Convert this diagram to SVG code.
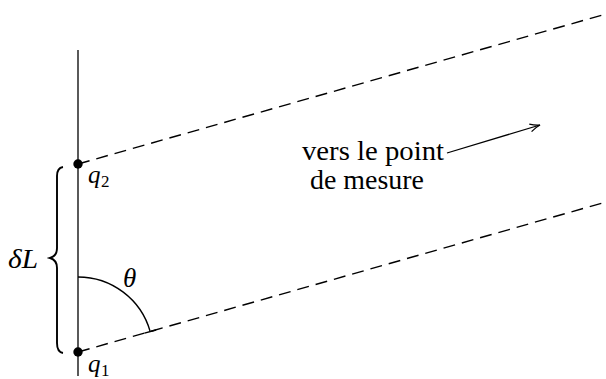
<svg xmlns="http://www.w3.org/2000/svg" width="606" height="379" viewBox="0 0 606 379">
<defs>
<style>
.i{font-style:italic}
.dash{stroke:#000;stroke-width:1.4;stroke-dasharray:12,7;fill:none}
.ln{stroke:#000;fill:none}
</style>
<marker id="ah" viewBox="0 0 12 10" refX="11" refY="5" markerWidth="12" markerHeight="10" markerUnits="userSpaceOnUse" orient="auto">
<path d="M1,1 Q6,4 11,5 Q6,6 1,9" fill="none" stroke="#000" stroke-width="1.2"/>
</marker>
</defs>
<rect width="606" height="379" fill="#fff"/>
<g id="axis">
<line class="ln" x1="78" y1="50" x2="78" y2="376" stroke-width="1.3" stroke="#222"/>
</g>
<g id="connectors">
<line class="dash" x1="78" y1="164" x2="606" y2="14"/>
<line class="dash" x1="78" y1="352" x2="606" y2="202"/>
<line class="ln" x1="447" y1="153" x2="540" y2="125" stroke-width="1.3" marker-end="url(#ah)"/>
</g>
<g id="q2">
<circle cx="78" cy="164" r="4.7" fill="#000"/>
<text class="i" x="88" y="183" font-size="25" font-family="Liberation Serif">q<tspan font-style="normal" font-size="17" x="101" dy="4">2</tspan></text>
</g>
<g id="q1">
<circle cx="78" cy="352" r="4.7" fill="#000"/>
<text class="i" x="88" y="372" font-size="25" font-family="Liberation Serif">q<tspan font-style="normal" font-size="17" x="101" dy="4">1</tspan></text>
</g>
<g id="brace">
<path class="ln" stroke-width="1.9" d="M63,167 Q57,168 57,176 L57,248 Q57,256 50,258 Q57,260 57,268 L57,343 Q57,352 63,353"/>
<text class="i" x="8" y="268" font-size="27" font-family="Liberation Serif" textLength="30" lengthAdjust="spacingAndGlyphs">δL</text>
</g>
<g id="angle">
<path class="ln" stroke-width="1.4" d="M78,277 A75,75 0 0 1 150.2,331.6"/>
<line class="ln" x1="144.5" y1="333.2" x2="156" y2="330" stroke-width="1.4"/>
<text class="i" x="123" y="287" font-size="27" font-family="Liberation Serif">θ</text>
</g>
<g id="label">
<text x="302" y="160" font-size="28" font-family="Liberation Serif" textLength="142" lengthAdjust="spacingAndGlyphs">vers le point</text>
<text x="310" y="189" font-size="28" font-family="Liberation Serif" textLength="114" lengthAdjust="spacingAndGlyphs">de mesure</text>
</g>
</svg>
